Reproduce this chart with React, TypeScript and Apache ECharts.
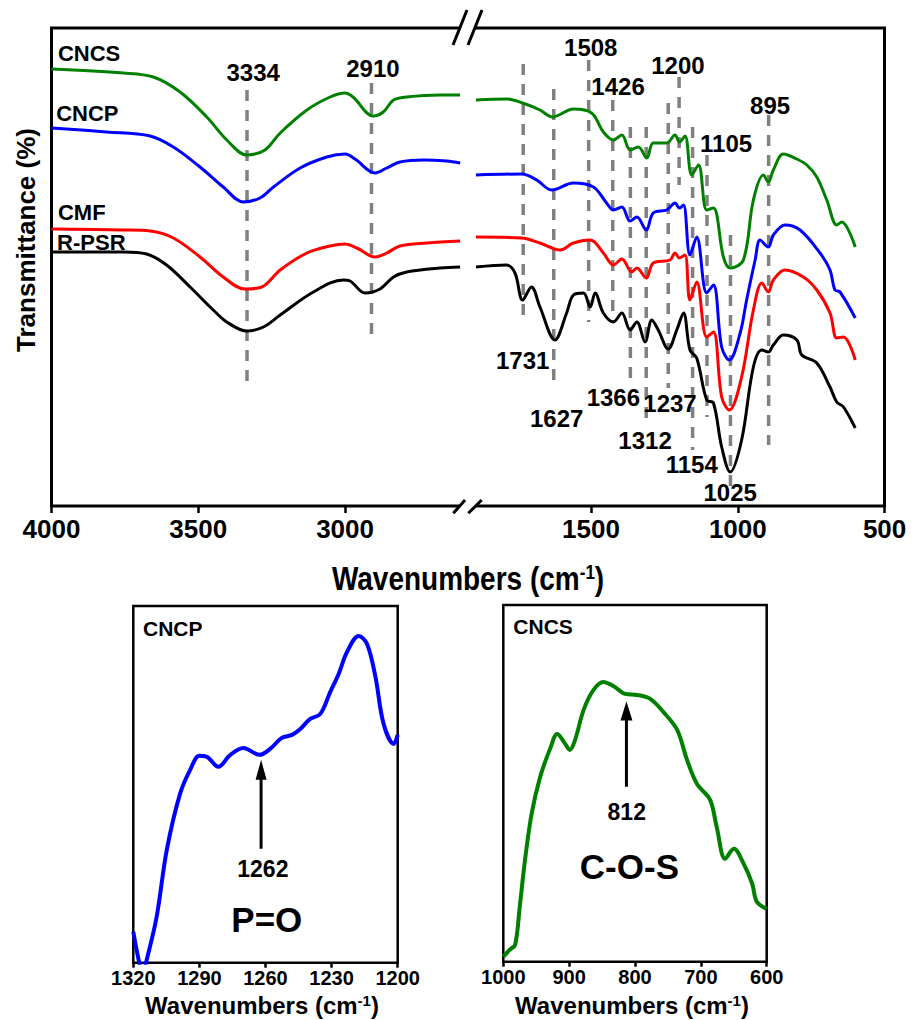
import React, { useEffect, useRef } from "react";
import * as echarts from "echarts";

const FONT = "'Liberation Sans', Arial, Helvetica, sans-serif";

// ---- main chart: left segment (4000 - 2600 cm-1), values in arbitrary transmittance units
const cncsLeft = [[4000,437],[3755,433],[3653,429],[3562,414],[3471,389],[3403,366],[3335,351],[3273,356],[3221,373],[3130,396],[3051,409],[3000,413],[2973,409],[2904,390],[2870,394],[2835,406],[2790,409],[2676,411],[2608,411]];
const cncpLeft = [[4000,378],[3812,374],[3664,370],[3585,359],[3494,339],[3415,319],[3346,304],[3290,308],[3244,319],[3153,338],[3062,349],[3000,352],[2966,347],[2898,333],[2858,338],[2813,344],[2733,346],[2654,345],[2608,343]];
const cmfLeft = [[4000,277],[3755,276],[3664,275],[3585,268],[3494,249],[3415,229],[3341,217],[3284,219],[3221,236],[3130,253],[3051,260],[3000,262],[2960,258],[2898,249],[2858,253],[2813,260],[2722,263],[2608,265]];
const rpsrLeft = [[4000,254],[3755,254],[3676,252],[3608,241],[3528,219],[3449,196],[3403,184],[3335,175],[3278,179],[3221,191],[3108,214],[3006,226],[2983,225],[2932,213],[2881,217],[2835,229],[2790,234],[2676,238],[2608,239]];

// ---- main chart: right segment (1900 - 500 cm-1)
const cncsRight = [[1892,406],[1788,407],[1733,403],[1674,396],[1631,389],[1560,397],[1498,393],[1458,374],[1424,366],[1395,371],[1367,356],[1339,359],[1310,348],[1288,363],[1242,363],[1214,371],[1199,364],[1180,370],[1157,331],[1134,341],[1106,296],[1083,298],[1049,249],[1026,238],[981,246],[947,306],[913,331],[896,324],[879,336],[845,352],[799,347],[765,341],[731,329],[697,306],[663,281],[646,284],[600,259]];
const cncpRight = [[1892,331],[1736,332],[1685,326],[1634,316],[1560,323],[1492,319],[1447,303],[1424,296],[1395,299],[1367,285],[1344,289],[1312,276],[1288,293],[1242,296],[1214,303],[1199,298],[1185,301],[1163,251],[1140,269],[1106,213],[1083,221],[1055,159],[1029,146],[992,173],[970,206],[941,246],[924,266],[896,259],[879,271],[839,281],[788,276],[720,253],[686,236],[669,216],[652,214],[600,188]];
const cmfRight = [[1892,269],[1736,268],[1674,263],[1606,256],[1560,263],[1503,266],[1458,253],[1424,241],[1395,247],[1361,234],[1344,238],[1312,228],[1288,243],[1231,246],[1214,253],[1199,248],[1180,251],[1163,206],[1140,224],[1106,169],[1083,174],[1055,109],[1029,96],[987,129],[947,196],[918,223],[896,214],[879,226],[839,236],[777,229],[731,216],[686,193],[663,168],[640,169],[600,146]];
const rpsrRight = [[1892,239],[1788,241],[1759,233],[1733,206],[1703,219],[1674,199],[1623,166],[1583,193],[1560,211],[1526,213],[1503,199],[1486,213],[1458,193],[1424,184],[1395,193],[1367,176],[1344,184],[1316,164],[1293,186],[1271,176],[1237,157],[1208,176],[1185,193],[1163,156],[1140,148],[1106,106],[1083,103],[1055,59],[1026,34],[987,66],[947,139],[918,156],[896,154],[879,161],[845,171],[799,166],[782,151],[731,143],[686,119],[663,104],[640,99],[600,78]];

// ---- peak marker lines: [wavenumber, top value, bottom value]
const peakLinesLeft = [[3334,416,118],[2910,423,169]];
const peakLinesRight = [[1731,442,183],[1627,417,121],[1508,446,184],[1426,406,183],[1366,379,124],[1312,379,86],[1237,403,118],[1200,429,321],[1154,379,56],[1105,351,89],[1025,271,16],[895,391,61]];

// ---- peak labels: [text, wavenumber position, value position]
const peakLabelsLeft = [["3334",3313,434],["2910",2905,438]];
const peakLabelsRight = [["1508",1501,459],["1426",1408,420],["1200",1204,441],["1105",1040,363],["895",890,401],["1731",1733,146],["1627",1617,88],["1366",1424,109],["1237",1231,103],["1312",1316,66],["1154",1157,42],["1025",1026,14]];

// ---- sample names
const sampleNames = [["CNCS",3978,453],["CNCP",3984,393],["CMF",3978,294],["R-PSR",3981,264]];

const leftTicks = [4000, 3500, 3000];
const rightTicks = [1500, 1000, 500];

// ---- inset 1: CNCP 1320-1200
const cncpInset = [[1320,31],[1317.5,2],[1315.8,-12],[1314,2],[1309.4,46],[1304.8,113],[1298.8,169],[1294.2,193],[1290,207],[1286.6,206],[1281.4,196],[1276,208],[1270,215],[1262.7,208],[1257.9,214],[1252.6,225],[1248,228],[1244.2,234],[1239.7,244],[1235.1,249],[1230.6,271],[1226.8,289],[1223,311],[1217.7,327],[1213.9,319],[1210.1,286],[1206.4,239],[1201.8,219],[1200,228]];
const insetTicks1 = [1320, 1290, 1260, 1230, 1200];

// ---- inset 2: CNCS 1000-600
const cncsInset = [[1000,5],[990,12],[982,17],[975,55],[967,102],[957,148],[944,185],[929,213],[918,228],[906,218],[899,212],[891,222],[878,252],[863,272],[848,280],[833,276],[815,268],[797,267],[777,263],[757,250],[736,232],[721,202],[706,178],[686,162],[676,135],[663,103],[650,113],[635,98],[622,78],[615,60],[600,53]];
const insetTicks2 = [1000, 900, 800, 700, 600];

const plain = (v: number) => String(v);

const lineSeries = (data: number[][], color: string, grid: number, width = 3) => ({
  type: "line",
  xAxisIndex: grid,
  yAxisIndex: grid,
  data,
  smooth: 0.35,
  showSymbol: false,
  symbol: "none",
  lineStyle: { color, width },
  z: 5,
});

const dashSeries = (p: number[], grid: number) => ({
  type: "line",
  xAxisIndex: grid,
  yAxisIndex: grid,
  data: [[p[0], p[1]], [p[0], p[2]]],
  showSymbol: false,
  symbol: "none",
  lineStyle: { color: "#808080", width: 3.5, type: [11, 9] },
  z: 3,
});

const labelSeries = (items: any[], grid: number, fontSize: number, align = "center") => ({
  type: "scatter",
  xAxisIndex: grid,
  yAxisIndex: grid,
  symbol: "circle",
  symbolSize: 1,
  itemStyle: { color: "rgba(0,0,0,0)", opacity: 1 },
  clip: false,
  z: 10,
  data: items.map((it) => ({ name: it[0], value: [it[1], it[2]] })),
  label: {
    show: true,
    position: "inside",
    align,
    verticalAlign: "middle",
    formatter: "{b}",
    color: "#000",
    opacity: 1,
    textBorderWidth: 0,
    fontSize,
    fontWeight: "bold",
    fontFamily: FONT,
  },
});

const arrowSeries = (w: number, from: number, to: number, grid: number, size: number[]) => ({
  type: "line",
  xAxisIndex: grid,
  yAxisIndex: grid,
  showSymbol: true,
  symbol: "none",
  lineStyle: { color: "#000", width: 3 },
  itemStyle: { color: "#000" },
  z: 8,
  data: [
    { value: [w, from], symbol: "none" },
    { value: [w, to], symbol: "triangle", symbolSize: size },
  ],
});

const mainXAxis = (grid: number, min: number, max: number, ticks: number[]) => ({
  type: "value",
  gridIndex: grid,
  min,
  max,
  inverse: true,
  axisLine: { show: false },
  splitLine: { show: false },
  axisTick: { show: true, inside: false, length: 7, customValues: ticks, lineStyle: { color: "#000", width: 2.5 } },
  axisLabel: { show: true, customValues: ticks, formatter: plain, showMinLabel: true, showMaxLabel: true, margin: 10, fontSize: 26, fontWeight: "bold", color: "#000", fontFamily: FONT },
});

const insetXAxis = (grid: number, min: number, max: number, ticks: number[], interval: number) => ({
  type: "value",
  gridIndex: grid,
  min,
  max,
  interval,
  inverse: true,
  axisLine: { show: false },
  splitLine: { show: false },
  axisTick: { show: true, inside: false, length: 5, customValues: ticks, lineStyle: { color: "#000", width: 2.5 } },
  axisLabel: { show: true, customValues: ticks, formatter: plain, showMinLabel: true, showMaxLabel: true, margin: 5, fontSize: 20, fontWeight: "bold", color: "#000", fontFamily: FONT },
});

const titleText = (x: number, y: number, size: number, sup: number, scaleY = 1) => ({
  type: "text",
  x,
  y,
  scaleY,
  style: {
    text: "{a|Wavenumbers (cm}{s|-1}{a|)}",
    align: "center",
    verticalAlign: "middle",
    rich: {
      a: { fontSize: size, fontWeight: "bold", fontFamily: FONT, fill: "#000" },
      s: { fontSize: sup, fontWeight: "bold", fontFamily: FONT, fill: "#000", verticalAlign: "top" },
    },
  },
});

export default function App() {
  const ref = useRef<HTMLDivElement>(null);
  useEffect(() => {
    if (!ref.current) return;
    const chart = echarts.init(ref.current, null, { renderer: "svg" });
    const option: any = {
      animation: false,
      backgroundColor: "#fff",
      grid: [
        { left: 51.5, top: 28, width: 411, height: 478 },
        { left: 473.6, top: 28, width: 411, height: 478 },
        { left: 133.3, top: 606, width: 264.4, height: 356.7, show: true, borderColor: "#000", borderWidth: 2.5 },
        { left: 503.3, top: 605, width: 263.4, height: 356.7, show: true, borderColor: "#000", borderWidth: 2.5 },
      ],
      xAxis: [
        mainXAxis(0, 2600, 4000, leftTicks),
        mainXAxis(1, 500, 1900, rightTicks),
        insetXAxis(2, 1200, 1320, insetTicks1, 30),
        insetXAxis(3, 600, 1000, insetTicks2, 100),
      ],
      yAxis: [
        { type: "value", gridIndex: 0, min: 0, max: 478, show: false },
        { type: "value", gridIndex: 1, min: 0, max: 478, show: false },
        { type: "value", gridIndex: 2, min: 0, max: 357, show: false },
        { type: "value", gridIndex: 3, min: 0, max: 357, show: false },
      ],
      series: [
        ...peakLinesLeft.map((p) => dashSeries(p, 0)),
        ...peakLinesRight.map((p) => dashSeries(p, 1)),
        lineSeries(cncsLeft, "#008000", 0),
        lineSeries(cncpLeft, "#0000ff", 0),
        lineSeries(cmfLeft, "#ff0000", 0),
        lineSeries(rpsrLeft, "#000000", 0),
        lineSeries(cncsRight, "#008000", 1),
        lineSeries(cncpRight, "#0000ff", 1),
        lineSeries(cmfRight, "#ff0000", 1),
        lineSeries(rpsrRight, "#000000", 1),
        labelSeries(peakLabelsLeft, 0, 24),
        labelSeries(peakLabelsRight, 1, 24),
        labelSeries(sampleNames, 0, 22, "left"),
        lineSeries(cncpInset, "#0000ff", 2, 4),
        lineSeries(cncsInset, "#008000", 3, 4),
        arrowSeries(1262, 114, 193, 2, [11, 20]),
        arrowSeries(813, 175, 251, 3, [12, 19]),
        labelSeries([["CNCP", 1315.6, 334]], 2, 21, "left"),
        labelSeries([["1262", 1261.2, 94]], 2, 23),
        labelSeries([["P=O", 1259.4, 43]], 2, 35),
        labelSeries([["CNCS", 984.8, 335]], 3, 21, "left"),
        labelSeries([["812", 812.5, 150]], 3, 23),
        labelSeries([["C-O-S", 808.5, 95]], 3, 35),
      ],
      graphic: [
        { type: "rect", z: 1, shape: { x: 51.5, y: 28, width: 833, height: 478 }, style: { fill: "none", stroke: "#000", lineWidth: 3 } },
        { type: "polygon", z: 20, shape: { points: [[458.2, 32], [461.4, 24], [476.4, 24], [473.2, 32]] }, style: { fill: "#fff" } },
        { type: "line", z: 21, shape: { x1: 453, y1: 45, x2: 467, y2: 10 }, style: { stroke: "#000", lineWidth: 3 } },
        { type: "line", z: 21, shape: { x1: 468, y1: 45, x2: 482, y2: 10 }, style: { stroke: "#000", lineWidth: 3 } },
        { type: "polygon", z: 20, shape: { points: [[456.2, 510], [463.2, 502], [479.7, 502], [471.6, 510]] }, style: { fill: "#fff" } },
        { type: "line", z: 21, shape: { x1: 453.3, y1: 513.3, x2: 465, y2: 500 }, style: { stroke: "#000", lineWidth: 3 } },
        { type: "line", z: 21, shape: { x1: 468.3, y1: 513.3, x2: 481.7, y2: 500 }, style: { stroke: "#000", lineWidth: 3 } },
        {
          type: "text",
          x: 26,
          y: 240,
          rotation: Math.PI / 2,
          style: { text: "Transmittance (%)", align: "center", verticalAlign: "middle", fontSize: 26, fontWeight: "bold", fontFamily: FONT, fill: "#000" },
        },
        titleText(468, 579, 28, 17, 1.2),
        titleText(262, 1005, 24, 15),
        titleText(632, 1005, 24, 15),
      ],
    };
    chart.setOption(option);
    return () => chart.dispose();
  }, []);
  return <div ref={ref} style={{ position: "absolute", left: 0, top: 0, width: 918, height: 1020 }} />;
}
